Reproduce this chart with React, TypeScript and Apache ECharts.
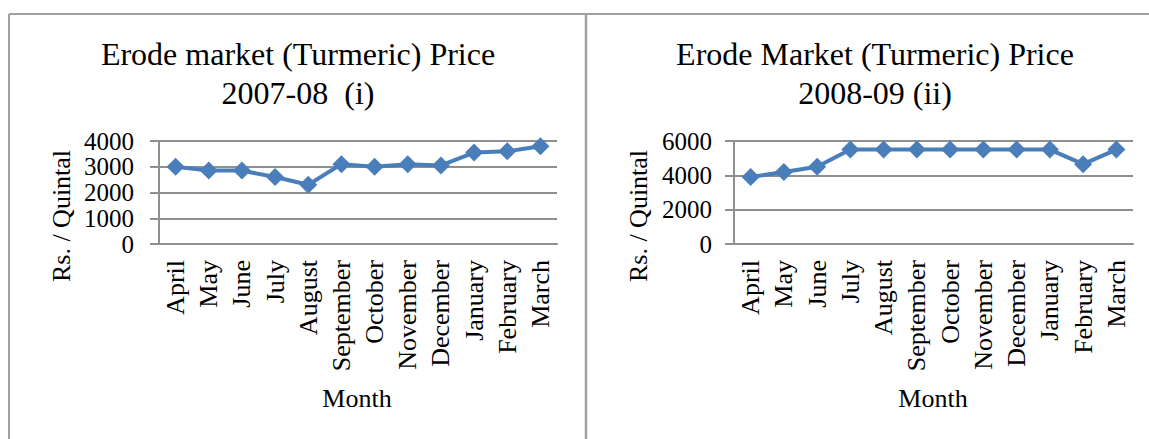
import React, { useEffect, useRef } from 'react';
import * as echarts from 'echarts';

const months = ['April', 'May', 'June', 'July', 'August', 'September', 'October', 'November', 'December', 'January', 'February', 'March'];
const price2007 = [3000, 2850, 2850, 2600, 2300, 3100, 3000, 3100, 3050, 3550, 3600, 3800];
const price2008 = [3900, 4200, 4500, 5500, 5500, 5500, 5500, 5500, 5500, 5500, 4650, 5500];
const yMax2007 = 4000;
const yStep2007 = 1000;
const yMax2008 = 6000;
const yStep2008 = 2000;
const titles1 = ['Erode market (Turmeric) Price', '2007-08  (i)'];
const titles2 = ['Erode Market (Turmeric) Price', '2008-09 (ii)'];
const yName = 'Rs. / Quintal';
const xName = 'Month';

const FONT = "'Liberation Serif', 'Times New Roman', serif";
const BLUE = '#4A7EBB';
const GRID_GREY = '#8f8f8f';
const BORDER_GREY = '#a0a0a0';

function makeAxes(gridIndex: number, max: number, step: number, labelMargin: number) {
  const x = {
    type: 'category',
    gridIndex,
    data: months,
    boundaryGap: true,
    axisLine: { show: true, lineStyle: { color: GRID_GREY, width: 2 } },
    axisTick: { show: false },
    axisLabel: { rotate: 90, margin: 16, fontSize: 26, fontFamily: FONT, color: '#000', interval: 0 },
    splitLine: { show: false },
  };
  const y = {
    type: 'value',
    gridIndex,
    min: 0,
    max,
    interval: step,
    axisLine: { show: true, lineStyle: { color: GRID_GREY, width: 2 } },
    axisTick: { show: true, length: 9, inside: false, lineStyle: { color: GRID_GREY, width: 2 } },
    axisLabel: {
      margin: labelMargin,
      fontSize: 25,
      fontFamily: FONT,
      color: '#000',
      formatter: (v: number) => String(v),
    },
    splitLine: { show: true, lineStyle: { color: GRID_GREY, width: 2 } },
  };
  return { x, y };
}

function textEl(text: string, x: number, y: number, size: number, rotation = 0) {
  return {
    type: 'text',
    x,
    y,
    rotation,
    style: { text, fill: '#000', fontSize: size, fontFamily: FONT, align: 'center', verticalAlign: 'middle' },
    silent: true,
  };
}

export default function App() {
  const ref = useRef<HTMLDivElement>(null);
  useEffect(() => {
    const chart = echarts.init(ref.current!, null, { renderer: 'svg' });
    const a1 = makeAxes(0, yMax2007, yStep2007, 25);
    const a2 = makeAxes(1, yMax2008, yStep2008, 22);
    const seriesStyle = {
      type: 'line',
      symbol: 'diamond',
      symbolSize: 18,
      lineStyle: { color: BLUE, width: 4 },
      itemStyle: { color: BLUE },
      silent: true,
    };
    chart.setOption({
      animation: false,
      backgroundColor: '#fff',
      grid: [
        { left: 159, right: 592, top: 141, bottom: 195 },
        { left: 734, right: 16, top: 141, bottom: 195 },
      ],
      xAxis: [a1.x, a2.x],
      yAxis: [a1.y, a2.y],
      series: [
        { ...seriesStyle, xAxisIndex: 0, yAxisIndex: 0, data: price2007 },
        { ...seriesStyle, xAxisIndex: 1, yAxisIndex: 1, data: price2008 },
      ],
      graphic: [
        { type: 'line', shape: { x1: 9, y1: 14, x2: 1149, y2: 14 }, style: { stroke: BORDER_GREY, lineWidth: 2 } },
        { type: 'line', shape: { x1: 9, y1: 14, x2: 9, y2: 439 }, style: { stroke: BORDER_GREY, lineWidth: 2 } },
        { type: 'line', shape: { x1: 586, y1: 14, x2: 586, y2: 439 }, style: { stroke: BORDER_GREY, lineWidth: 2.5 } },
        textEl(titles1[0], 298, 54, 32),
        textEl(titles1[1], 298, 93, 32),
        textEl(titles2[0], 875, 54, 32),
        textEl(titles2[1], 875, 93, 32),
        textEl(yName, 61, 216, 26, Math.PI / 2),
        textEl(yName, 638, 216, 26, Math.PI / 2),
        textEl(xName, 357, 398, 26),
        textEl(xName, 933, 398, 26),
      ],
    });
    return () => chart.dispose();
  }, []);
  return (
    <div
      ref={ref}
      style={{ position: 'absolute', left: 0, top: 0, width: 1149, height: 439, background: '#fff' }}
    />
  );
}
